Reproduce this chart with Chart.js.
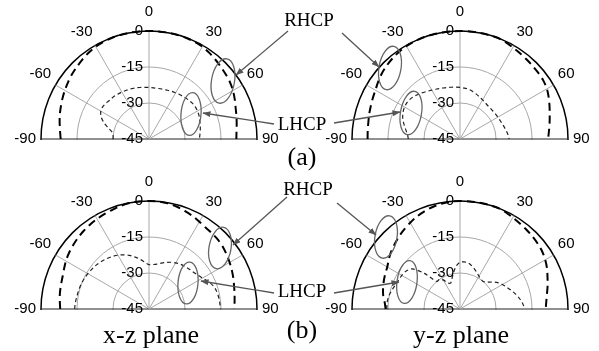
<!DOCTYPE html>
<html lang="en">
<head>
<meta charset="UTF-8">
<title>RHCP / LHCP patterns</title>
<script src="https://cdn.jsdelivr.net/npm/chart.js"></script>
<style>
  body { margin:0; width:599px; height:351px; background:#fff; position:relative; overflow:hidden;
         font-family:"Liberation Serif","Times New Roman",serif; }
  canvas { position:absolute; }
  .txt { position:absolute; white-space:nowrap; color:#000; line-height:1; transform:translate(-50%,-50%); }
  .lbl { font-size:19px; }
  .cap { font-size:26px; }
  svg { position:absolute; left:0; top:0; }
</style>
</head>
<body>
<canvas id="xzA" width="272" height="272" style="left:11px;top:-11px"></canvas>
<canvas id="yzA" width="272" height="272" style="left:322px;top:-11px"></canvas>
<canvas id="xzB" width="272" height="272" style="left:11px;top:159px"></canvas>
<canvas id="yzB" width="272" height="272" style="left:322px;top:159px"></canvas>

<svg width="599" height="351">
  <defs>
    <marker id="ah" markerWidth="8" markerHeight="6" refX="7.5" refY="3" orient="auto" markerUnits="userSpaceOnUse">
      <path d="M0,0 L8,3 L0,6 z" fill="#555"/>
    </marker>
  </defs>
  <g fill="none" stroke="#666" stroke-width="1.3">
    <ellipse cx="223" cy="81" rx="11.5" ry="22.5" transform="rotate(10 223 81)"/>
    <ellipse cx="191" cy="114" rx="10" ry="21.5" transform="rotate(5 191 114)"/>
    <ellipse cx="390" cy="68" rx="11" ry="22" transform="rotate(10 390 68)"/>
    <ellipse cx="411" cy="113" rx="10.5" ry="22" transform="rotate(10 411 113)"/>
    <ellipse cx="220" cy="248" rx="11" ry="21" transform="rotate(10 220 248)"/>
    <ellipse cx="188" cy="283" rx="10" ry="21" transform="rotate(5 188 283)"/>
    <ellipse cx="386" cy="237" rx="11" ry="21.5" transform="rotate(10 386 237)"/>
    <ellipse cx="407" cy="282" rx="10" ry="21.5" transform="rotate(8 407 282)"/>
  </g>
  <g stroke="#555" stroke-width="1.3">
    <line x1="288" y1="31" x2="236" y2="75" marker-end="url(#ah)"/>
    <line x1="274" y1="124" x2="203" y2="113" marker-end="url(#ah)"/>
    <line x1="342" y1="33" x2="379" y2="67" marker-end="url(#ah)"/>
    <line x1="334" y1="123" x2="400" y2="112" marker-end="url(#ah)"/>
    <line x1="287" y1="197" x2="233" y2="245" marker-end="url(#ah)"/>
    <line x1="274" y1="293" x2="201" y2="281" marker-end="url(#ah)"/>
    <line x1="337" y1="203" x2="376" y2="235" marker-end="url(#ah)"/>
    <line x1="334" y1="293" x2="399" y2="282" marker-end="url(#ah)"/>
  </g>
</svg>

<div class="txt lbl" style="left:309px;top:19px">RHCP</div>
<div class="txt lbl" style="left:302px;top:123px">LHCP</div>
<div class="txt cap" style="left:302px;top:157px">(a)</div>
<div class="txt lbl" style="left:308px;top:188px">RHCP</div>
<div class="txt lbl" style="left:302px;top:290px">LHCP</div>
<div class="txt cap" style="left:302px;top:330px">(b)</div>
<div class="txt cap" style="left:151px;top:335px">x-z plane</div>
<div class="txt cap" style="left:461px;top:335px">y-z plane</div>

<script>
// elevation angle (deg) of every sample, -90 .. 90
const angles = [-90, -85, -80, -75, -70, -65, -60, -55, -50, -45, -40, -35, -30, -25, -20, -15, -10, -5,
                0, 5, 10, 15, 20, 25, 30, 35, 40, 45, 50, 55, 60, 65, 70, 75, 80, 85, 90];
const angleTicks = [-90, -60, -30, 0, 30, 60, 90];
const radialTicks = [-45, -30, -15, 0];

// (a) x-z plane
const xzA_rhcp = [-8.2, -7.8, -7.2, -6.5, -5.9, -5.2, -4.5, -3.8, -3.1, -2.5, -1.8, -1.1, -0.6, -0.3, -0.1, 0, 0, 0,
                  0, 0, 0, 0, -0.1, -0.3, -0.6, -1.2, -1.9, -2.6, -3.2, -3.8, -4.6, -5.6, -6.6, -7.3, -7.9, -8.4, -8.6];
const xzA_lhcp = [-30, -30, -29.5, -27.5, -25, -23, -21.8, -21.5, -21.7, -22, -22, -22.2, -22.4, -22.6, -22.8, -23, -23.2, -23.4,
                  -23.5, -23.6, -23.6, -23.5, -23.3, -23, -22.8, -22.5, -22.2, -21.9, -21.6, -21.5, -21.7, -22, -22.5, -22.9, -23.3, -23.7, -24];
// (a) y-z plane
const yzA_rhcp = [-6.5, -6.4, -6.2, -5.8, -5.4, -4.9, -4.3, -3.4, -2.5, -1.8, -1.2, -0.7, -0.3, -0.1, 0, 0, 0, 0,
                  0, 0, 0, 0, 0, -0.4, -1.0, -1.4, -1.8, -2.1, -2.3, -2.6, -3.2, -4.2, -5.3, -6.3, -7.1, -7.8, -8.3];
const yzA_lhcp = [-23.5, -23, -22, -20.8, -19.6, -18.8, -18.3, -18.2, -18.5, -19.2, -20, -20.8, -21.5, -22, -22.5, -22.8, -23.1, -23.3,
                  -23.5, -23.7, -24, -24.5, -25.1, -25.7, -26.2, -26.6, -26.9, -27, -27, -26.9, -26.8, -26.6, -26.3, -25.9, -25.4, -24.9, -24.5];
// (b) x-z plane
const xzB_rhcp = [-8.0, -7.7, -7.3, -7.0, -6.6, -5.9, -5.0, -4.3, -3.7, -3.1, -2.6, -2.1, -1.7, -1.3, -0.9, -0.4, -0.1, 0,
                  0, 0, -0.3, -0.8, -1.5, -2.2, -3.0, -3.7, -4.0, -4.3, -4.8, -5.5, -6.2, -6.9, -7.6, -8.3, -8.8, -9.2, -9.4];
const xzB_lhcp = [-14, -14.2, -14.5, -14.7, -14.9, -15.2, -15.6, -16, -16.4, -17, -17.6, -18.3, -19.1, -20.1, -21.2, -22.6, -24, -25.5,
                  -26.5, -26.4, -26, -25.2, -24.4, -23.5, -22.8, -22.2, -21.8, -21.4, -21, -20.3, -19.2, -17.8, -16.6, -15.9, -15.6, -15.4, -15.3];
// (b) y-z plane
const yzB_rhcp = [-14, -13.5, -12.5, -11.8, -11.2, -10.6, -10, -8.8, -7.6, -6.6, -5.5, -4.5, -3.5, -2.5, -1.7, -1.0, -0.5, -0.1,
                  0, 0, 0, 0, 0, -0.4, -1.0, -1.5, -1.9, -2.3, -2.7, -3.2, -4.0, -5.0, -6.2, -7.2, -8.2, -8.9, -9.3];
const yzB_lhcp = [-14.5, -14.5, -14.8, -15.5, -16.2, -16.7, -17, -17.5, -19, -24, -30, -30, -31, -33, -33.5, -32, -29.5, -27,
                  -25.5, -25.3, -25.5, -26.3, -27.3, -28.3, -29.2, -29.8, -30, -29.2, -27.5, -25.8, -24.6, -23.5, -22.3, -21, -19.8, -18.8, -18];

const FONT = '"Liberation Sans", Arial, sans-serif';

// radar goes clockwise from the top in 5 deg steps; the lower half stays empty
const slots = [];
for (let i = 0; i < 72; i++) slots.push(i * 5 <= 180 ? i * 5 : i * 5 - 360);
const labels = slots.map(a => angleTicks.includes(a) ? String(a) : '');
const toSlots = vals => slots.map(a => { const k = angles.indexOf(a); return k < 0 ? null : vals[k]; });

// keep only the upper half (plus the -90 / 90 labels), then write the dB ticks
const halfPlane = {
    id: 'halfPlane',
    beforeDraw(chart) {
        const s = chart.scales.r, ctx = chart.ctx;
        ctx.save();
        ctx.beginPath();
        ctx.rect(0, 0, chart.width, s.yCenter + 1);
        ctx.rect(0, s.yCenter, s.xCenter - s.drawingArea - 2, chart.height);
        ctx.rect(s.xCenter + s.drawingArea + 2, s.yCenter, chart.width, chart.height);
        ctx.clip();
    },
    afterDraw(chart) {
        const s = chart.scales.r, ctx = chart.ctx;
        ctx.restore();
        ctx.save();
        ctx.font = '15px ' + FONT;
        ctx.fillStyle = '#000';
        ctx.textAlign = 'right';
        ctx.textBaseline = 'middle';
        radialTicks.forEach(v => {
            ctx.fillText(String(v), s.xCenter - 6, s.yCenter - s.getDistanceFromCenterForValue(v));
        });
        ctx.restore();
    }
};

function drawPlane(id, rhcp, lhcp) {
    return new Chart(document.getElementById(id), {
        type: 'radar',
        data: {
            labels: labels,
            datasets: [
                { label: 'RHCP', data: toSlots(rhcp), borderColor: '#000', borderWidth: 2, borderDash: [8, 5],
                  pointRadius: 0, fill: false, tension: 0.3 },
                { label: 'LHCP', data: toSlots(lhcp), borderColor: '#222', borderWidth: 1.2, borderDash: [4, 3],
                  pointRadius: 0, fill: false, tension: 0.3 }
            ]
        },
        options: {
            responsive: false,
            animation: false,
            events: [],
            layout: { padding: 0 },
            plugins: { legend: { display: false }, tooltip: { enabled: false } },
            scales: {
                r: {
                    min: -45,
                    max: 0,
                    ticks: { display: false, stepSize: 15 },
                    grid: {
                        circular: true,
                        color: c => c.tick.value === 0 ? '#000' : '#a8a8a8',
                        lineWidth: c => c.tick.value === 0 ? 1.5 : 1
                    },
                    angleLines: {
                        color: c => (c.label === '90' || c.label === '-90') ? '#222' : '#a8a8a8',
                        lineWidth: c => c.label === '' ? 0 : 1
                    },
                    pointLabels: {
                        color: '#000',
                        padding: c => c.label === '' ? -30 : (c.label === '0' ? 10 : 5),
                        font: c => ({ family: FONT, size: c.label === '' ? 1 : 15 })
                    }
                }
            }
        },
        plugins: [halfPlane]
    });
}

drawPlane('xzA', xzA_rhcp, xzA_lhcp);
drawPlane('yzA', yzA_rhcp, yzA_lhcp);
drawPlane('xzB', xzB_rhcp, xzB_lhcp);
drawPlane('yzB', yzB_rhcp, yzB_lhcp);
</script>
</body>
</html>
